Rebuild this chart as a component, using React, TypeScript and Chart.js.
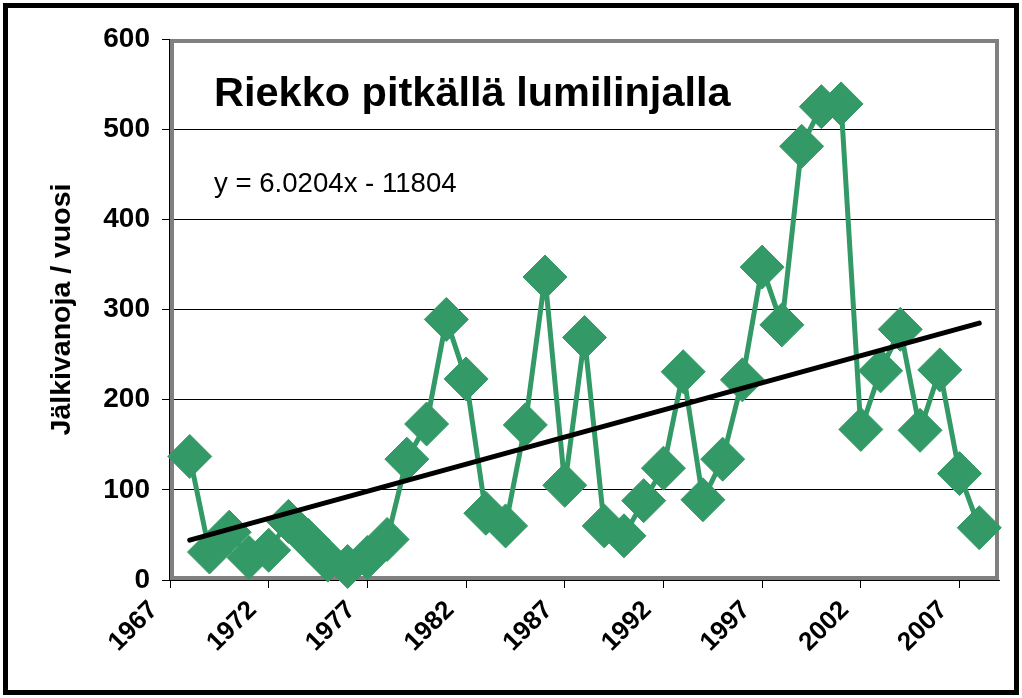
import React, { useEffect, useRef } from 'react';
import { Chart, registerables } from 'chart.js';

Chart.register(...registerables);

const years = [
  1968, 1969, 1970, 1971, 1972, 1973, 1974, 1975, 1976, 1977,
  1978, 1979, 1980, 1981, 1982, 1983, 1984, 1985, 1986, 1987,
  1988, 1989, 1990, 1991, 1992, 1993, 1994, 1995, 1996, 1997,
  1998, 1999, 2000, 2001, 2002, 2003, 2004, 2005, 2006, 2007, 2008,
];
const tracks = [
  137, 31, 53, 25, 33, 65, 44, 22, 15, 25,
  45, 134, 173, 289, 223, 74, 60, 172, 336, 105,
  269, 60, 49, 88, 124, 231, 89, 134, 222, 347,
  283, 481, 525, 528, 167, 232, 278, 166, 233, 118, 58,
];
const xTickYears = [1967, 1972, 1977, 1982, 1987, 1992, 1997, 2002, 2007];
const yTickValues = [0, 100, 200, 300, 400, 500, 600];
const trendSlope = 6.0204;
const trendIntercept = -11804;
const trendYears = [1968, 2008];

const titleText = 'Riekko pitkällä lumilinjalla';
const equationText = 'y = 6.0204x - 11804';
const yAxisTitle = 'Jälkivanoja / vuosi';

const FONT = "'Liberation Sans', Arial, sans-serif";
const GREEN = '#339966';

export default function App() {
  const ref = useRef<HTMLCanvasElement>(null);

  useEffect(() => {
    const canvas = ref.current;
    if (!canvas) return;

    const plotFrame = {
      id: 'plotFrame',
      beforeDatasetsDraw(chart: any) {
        const { ctx, chartArea: a } = chart;
        ctx.save();
        ctx.strokeStyle = '#808080';
        ctx.lineWidth = 4;
        ctx.strokeRect(a.left + 2, a.top + 2, a.right - a.left - 4, a.bottom - a.top - 4);
        ctx.fillStyle = '#000';
        ctx.fillRect(a.left - 1, a.top, 1, a.bottom - a.top + 1);
        ctx.fillRect(a.left - 1, a.bottom, a.right - a.left + 1, 1);
        ctx.restore();
      },
    };

    const texts = {
      id: 'texts',
      afterDraw(chart: any) {
        const { ctx, chartArea: a } = chart;
        const xs = chart.scales.x;
        ctx.save();
        ctx.fillStyle = '#000';
        ctx.textBaseline = 'alphabetic';
        ctx.textAlign = 'left';
        ctx.font = `bold 41.5px ${FONT}`;
        ctx.fillText(titleText, 214, 106);
        ctx.font = `27.6px ${FONT}`;
        ctx.fillText(equationText, 214, 192);
        // rotated x tick labels
        ctx.font = `bold 26px ${FONT}`;
        ctx.textAlign = 'right';
        ctx.textBaseline = 'middle';
        xTickYears.forEach((yr) => {
          const px = xs.getPixelForValue(yr);
          ctx.save();
          ctx.translate(px - 16, a.bottom + 26);
          ctx.rotate(-Math.PI / 4);
          ctx.fillText(String(yr), 0, 0);
          ctx.restore();
        });
        ctx.restore();
      },
    };

    const chart = new Chart(canvas, {
      type: 'line',
      data: {
        datasets: [
          {
            label: 'trend',
            data: trendYears.map((yr) => ({ x: yr, y: trendSlope * yr + trendIntercept })),
            borderColor: '#000',
            borderWidth: 5,
            borderCapStyle: 'round',
            pointRadius: 0,
            order: 0,
          },
          {
            label: 'Riekko',
            data: years.map((yr, i) => ({ x: yr, y: tracks[i] })),
            borderColor: GREEN,
            borderWidth: 5,
            pointStyle: 'rectRot',
            pointRadius: 22,
            pointBackgroundColor: GREEN,
            pointBorderColor: GREEN,
            pointBorderWidth: 1,
            tension: 0,
            clip: false,
            order: 1,
          },
        ],
      } as any,
      options: {
        responsive: false,
        animation: false,
        devicePixelRatio: 1,
        layout: { padding: { left: 40, top: 39, right: 22, bottom: 18 } },
        plugins: {
          legend: { display: false },
          tooltip: { enabled: false },
          title: { display: false },
        },
        scales: {
          x: {
            type: 'linear',
            min: 1967,
            max: 2009,
            afterBuildTicks: (s: any) => {
              s.ticks = xTickYears.map((v) => ({ value: v }));
            },
            afterFit: (s: any) => {
              s.height = 100;
            },
            ticks: {
              display: false,
              autoSkip: false,
            },
            grid: { drawOnChartArea: false, color: '#000', lineWidth: 1, tickLength: 8 },
            border: { display: true, color: '#000', width: 1 },
          },
          y: {
            type: 'linear',
            min: 0,
            max: 600,
            afterBuildTicks: (s: any) => {
              s.ticks = yTickValues.map((v) => ({ value: v }));
            },
            afterFit: (s: any) => {
              s.width = 130;
            },
            ticks: {
              padding: 12,
              color: '#000',
              font: { family: FONT, size: 28, weight: 'bold' },
              callback: (v: any) => String(v),
            },
            grid: { color: '#000', lineWidth: 1, tickLength: 8 },
            border: { display: true, color: '#000', width: 1 },
            title: {
              display: true,
              text: yAxisTitle,
              color: '#000',
              font: { family: FONT, size: 28.5, weight: 'bold' },
              padding: { top: 5, bottom: 0 },
            },
          },
        },
      } as any,
      plugins: [plotFrame, texts],
    });

    return () => chart.destroy();
  }, []);

  return (
    <div style={{ position: 'absolute', left: 0, top: 0, width: 1022, height: 698, background: '#fff' }}>
      <canvas ref={ref} width={1022} height={698} style={{ position: 'absolute', left: 0, top: 0 }} />
      <div
        style={{
          position: 'absolute',
          left: 3,
          top: 3,
          width: 1016,
          height: 692,
          border: '5px solid #000',
          boxSizing: 'border-box',
          pointerEvents: 'none',
        }}
      />
    </div>
  );
}
